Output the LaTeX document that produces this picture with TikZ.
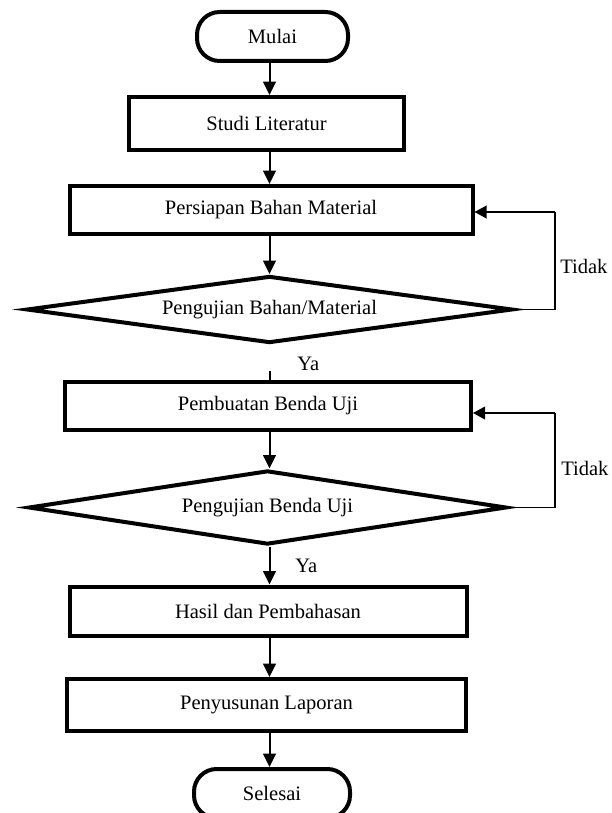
\documentclass[tikz,border=0pt]{standalone}
\usepackage{fontspec}
\setmainfont{Liberation Serif}
\usetikzlibrary{arrows.meta,shapes.geometric,calc}
\begin{document}
\begin{tikzpicture}[x=0.75pt,y=-0.75pt,
  every node/.style={font=\fontsize{15.4}{18}\selectfont, inner sep=0pt},
  procbox/.style={draw, line width=3pt, rectangle},
  termbox/.style={draw, line width=3pt, rectangle, rounded corners=17pt},
  decbox/.style={draw, line width=3pt, diamond, aspect=7.5, line join=miter},
  arr/.style={line width=1.5pt, -{Triangle[length=10pt,width=9.5pt]}},
  looparr/.style={line width=1.1pt, -{Triangle[length=9pt,width=9.5pt]}},
  plain/.style={line width=1.5pt},
  loopline/.style={line width=1.1pt},
  lbl/.style={anchor=base west}
]
\useasboundingbox (0,0) rectangle (611,813);
\clip (0,0) rectangle (611,813);

% nodes
\node[termbox, minimum width=113.25pt, minimum height=36.75pt] (mulai) at (272.5,36.5) {Mulai};
\node[procbox, minimum width=206.25pt, minimum height=39.75pt] (studi) at (266.5,123.5) {Studi Literatur};
\node[procbox, minimum width=302.25pt, minimum height=36pt] (persiapan) at (271,210) {Persiapan Bahan Material};
\node[decbox, minimum width=364.5pt, minimum height=50.25pt] (uji1) at (269.5,309.5) {Pengujian Bahan/Material};
\node[procbox, minimum width=304.5pt, minimum height=36pt] (pembuatan) at (268,406) {Pembuatan Benda Uji};
\node[decbox, minimum width=358.5pt, minimum height=55.5pt] (uji2) at (267.5,507.5) {Pengujian Benda Uji};
\node[procbox, minimum width=297.75pt, minimum height=36.75pt] (hasil) at (268,611) {Hasil dan Pembahasan};
\node[procbox, minimum width=299.25pt, minimum height=39pt] (susun) at (266.5,705) {Penyusunan Laporan};
\node[termbox, minimum width=117pt, minimum height=36.75pt] (selesai) at (272,793.5) {Selesai};

% labels
\node[lbl] (tidak1) at (560,273) {Tidak};
\node[lbl] (tidak2) at (561,475) {Tidak};
\node[lbl] (ya1) at (297,370) {Ya};
\node[lbl] (ya2) at (295,572) {Ya};

% helper coordinates
\coordinate (ax) at (269.5,0);
\coordinate (l1b) at (555,309.5);
\coordinate (l1t) at (555,212);
\coordinate (l2b) at (555,507.5);
\coordinate (l2t) at (555,413);
\coordinate (ya1l) at (269.5,371);

% connectors
\draw[arr] (mulai.south -| ax) -- (studi.north -| ax);
\draw[arr] (studi.south -| ax) -- (persiapan.north -| ax);
\draw[arr] (persiapan.south -| ax) -- (uji1.north);
\draw[plain] (ya1l) -- (ya1l |- pembuatan.north);
\draw[arr] (pembuatan.south -| ax) -- (uji2.north -| ax);
\draw[arr] (uji2.south -| ax) -- (hasil.north -| ax);
\draw[arr] (hasil.south -| ax) -- (susun.north -| ax);
\draw[arr] (susun.south -| ax) -- (selesai.north -| ax);

\draw[loopline] (uji1.east) -- (l1b) -- (l1t);
\draw[looparr] (l1t) -- (persiapan.east |- l1t);
\draw[loopline] (uji2.east) -- (l2b) -- (l2t);
\draw[looparr] (l2t) -- (pembuatan.east |- l2t);
\end{tikzpicture}
\end{document}
